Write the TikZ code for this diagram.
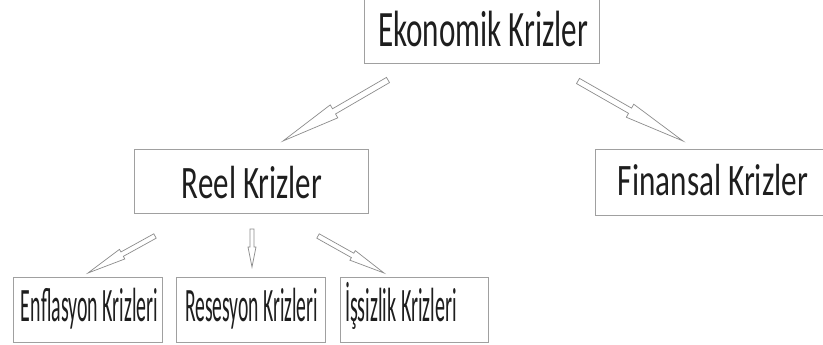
\documentclass[tikz,border=0pt]{standalone}
\usepackage{fontspec}
\setmainfont{Carlito}
\usepackage{graphicx}
\usetikzlibrary{calc}
\definecolor{boxgray}{RGB}{160,160,160}
\definecolor{arrgray}{RGB}{140,140,140}
\definecolor{txt}{RGB}{30,30,30}
\newcommand\sqtext[3]{\resizebox{#1pt}{\height}{\fontsize{#2}{#2}\selectfont #3}}
\newcommand\blockarr[5]{%
  \coordinate (hb) at ($(#2)!#5!(#1)$);
  \draw[arrline] ($(#1)!#3!90:(#2)$) -- ($(hb)!#3!-90:(#1)$) -- ($(hb)!#4!-90:(#1)$)
    -- (#2) -- ($(hb)!#4!90:(#1)$) -- ($(hb)!#3!90:(#1)$) -- ($(#1)!#3!-90:(#2)$) -- cycle;
}
\begin{document}
\begin{tikzpicture}[x=1pt,y=-1pt,
  box/.style={draw=boxgray,line width=0.9pt,rectangle,inner sep=0pt},
  lab/.style={inner sep=0pt,anchor=base,text=txt},
  arrline/.style={draw=arrgray,line width=0.7pt,line join=miter,fill=white}]
\useasboundingbox (0,0) rectangle (823,345);
\fill[white] (0,0) rectangle (823,345);
\clip (0,0) rectangle (823,345);
% boxes
\node[box,minimum width=235pt,minimum height=64pt] (eko) at (481.5,31) {};
\node[box,minimum width=234pt,minimum height=64pt] (reel) at (251,181) {};
\node[box,minimum width=235pt,minimum height=66pt] (fin) at (712.5,182) {};
\node[box,minimum width=149pt,minimum height=65pt] (enf) at (87.5,309.5) {};
\node[box,minimum width=149pt,minimum height=65pt] (res) at (250.5,309.5) {};
\node[box,minimum width=148pt,minimum height=65pt] (iss) at (414,309.5) {};
% labels
\node[lab] (ekot) at (483,47) {\sqtext{210}{51}{Ekonomik Krizler}};
\node[lab] (reelt) at (252,198) {\sqtext{140}{46.5}{Reel Krizler}};
\node[lab] (fint) at (713,195) {\sqtext{190}{45}{Finansal Krizler}};
\node[lab] (enft) at (89.5,321) {\sqtext{137}{48}{Enflasyon Krizleri}};
\node[lab] (rest) at (251.5,321) {\sqtext{133}{48}{Resesyon Krizleri}};
\node[lab] (isst) at (401,321) {\sqtext{112}{48}{İşsizlik Krizleri}};
% arrow end points
\coordinate (a1s) at (388,80);  \coordinate (a1e) at (283,141);
\coordinate (a2s) at (578,81);  \coordinate (a2e) at (683,141);
\coordinate (a3s) at (155,236); \coordinate (a3e) at (88,273);
\coordinate (a4s) at (252,229); \coordinate (a4e) at (252,267);
\coordinate (a5s) at (318,236); \coordinate (a5e) at (384,273);
\blockarr{a1s}{a1e}{3pt}{7.5pt}{59pt}
\blockarr{a2s}{a2e}{3pt}{7.5pt}{61pt}
\blockarr{a3s}{a3e}{2.5pt}{5.5pt}{39pt}
\blockarr{a4s}{a4e}{2pt}{4pt}{20pt}
\blockarr{a5s}{a5e}{2.5pt}{5.5pt}{36pt}
\end{tikzpicture}
\end{document}
